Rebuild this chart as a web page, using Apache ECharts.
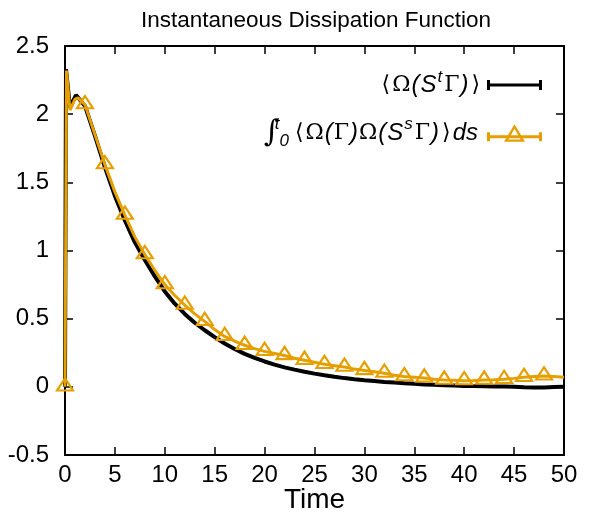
<!DOCTYPE html>
<html><head><meta charset="utf-8">
<script src="https://cdn.jsdelivr.net/npm/echarts@6/dist/echarts.min.js"></script>
<style>html,body{margin:0;padding:0;background:#fff}#c{width:591px;height:515px}</style>
</head><body><div id="c"></div>
<script>
// ---- data ----
const titleText = 'Instantaneous Dissipation Function';
const xAxisName = 'Time';
const xTickValues = [0, 5, 10, 15, 20, 25, 30, 35, 40, 45, 50];
const yTickValues = [-0.5, 0, 0.5, 1, 1.5, 2, 2.5];

const blackName = 'inst';
const blackTime = [0, 0.1, 0.5, 1.1, 2, 3, 4, 5, 6, 7, 8, 9, 10, 11, 12, 13, 14, 15, 16, 17, 18, 19, 20,
  21, 22, 23, 24, 25, 26, 27, 28, 29, 30, 31, 32, 33, 34, 35, 36, 37, 38, 39, 40,
  41, 42, 43, 44, 45, 46, 47, 48, 49, 50];
const blackValue = [0, 2.33, 2.05, 2.14, 2.06, 1.84, 1.61, 1.40, 1.22, 1.06, 0.93, 0.81, 0.70, 0.61, 0.535, 0.47, 0.415, 0.365, 0.318, 0.277, 0.242, 0.212, 0.186,
  0.163, 0.143, 0.126, 0.111, 0.097, 0.085, 0.074, 0.064, 0.055, 0.048, 0.042, 0.036, 0.031, 0.026, 0.022, 0.018, 0.015, 0.012, 0.01, 0.007,
  0.006, 0.005, 0.003, 0.002, 0.0, -0.003, -0.004, -0.004, -0.002, 0.0];

const orangeName = 'integral';
const orangeTime = [0, 0.15, 0.5, 1.0, 1.3, 2, 3, 4, 5, 6, 7, 8, 9, 10, 11, 12, 13, 14, 15, 16, 17, 18, 19, 20,
  21, 22, 23, 24, 25, 26, 27, 28, 29, 30, 31, 32, 33, 34, 35, 36, 37, 38, 39, 40,
  41, 42, 43, 44, 45, 46, 47, 48, 49, 50];
const orangeValue = [0, 2.32, 2.03, 2.11, 2.12, 2.07, 1.85, 1.63, 1.43, 1.26, 1.10, 0.97, 0.855, 0.75, 0.67, 0.60, 0.535, 0.48, 0.42, 0.37, 0.335, 0.305, 0.28, 0.26,
  0.245, 0.23, 0.21, 0.195, 0.18, 0.165, 0.155, 0.145, 0.13, 0.12, 0.11, 0.10, 0.085, 0.075, 0.07, 0.065, 0.055, 0.05, 0.048, 0.045,
  0.047, 0.05, 0.052, 0.055, 0.062, 0.07, 0.075, 0.08, 0.075, 0.07];
const markerStep = 2; // a triangle on every second time unit

// ---- chart ----
const FONT = 'Liberation Sans';
const ORANGE = '#e69f00';
const triPath = 'path://M10,0L20,17.5L0,17.5Z M10,4.64L3.97,15.2L16.03,15.2Z';
const blackIcon = 'path://M0,5h3v10h-3z M3,8.5h49v3h-49z M52,5h3v10h-3z';
const orangeIcon = 'path://M0,8h3v9h-3z M3,11h49v3h-49z M52,8h3v9h-3z M27.5,0L38,17.5L17,17.5Z M27.5,4.6L21.4,15.3L33.6,15.3Z';

const zip = (a, b) => a.map((v, i) => [v, b[i]]);
const xMin = xTickValues[0], xMax = xTickValues[xTickValues.length - 1], xInt = xTickValues[1] - xTickValues[0];
const yMin = yTickValues[0], yMax = yTickValues[yTickValues.length - 1], yInt = yTickValues[1] - yTickValues[0];

const frameLine = { show: true, onZero: false, lineStyle: { color: '#000', width: 2 } };
const tick = { show: true, inside: true, length: 8, lineStyle: { color: '#000', width: 1.5 } };
const labelStyle = { color: '#000', fontFamily: FONT, fontSize: 24 };

const rich = {
  sym: { fontFamily: 'DejaVu Serif', fontSize: 22, color: '#000', lineHeight: 32, verticalAlign: 'middle' },
  br: { fontFamily: 'DejaVu Serif', fontSize: 22, color: '#000', lineHeight: 32, verticalAlign: 'middle', padding: [0, 2, 0, 2] },
  it: { fontFamily: FONT, fontStyle: 'italic', fontSize: 24, color: '#000', lineHeight: 32, verticalAlign: 'middle' },
  itEnd: { fontFamily: FONT, fontStyle: 'italic', fontSize: 24, color: '#000', lineHeight: 32, verticalAlign: 'middle', padding: [0, 4, 0, 0] },
  par: { fontFamily: FONT, fontStyle: 'italic', fontSize: 24, color: '#000', lineHeight: 32, verticalAlign: 'middle', padding: [0, 1, 0, 1] },
  sup: { fontFamily: FONT, fontStyle: 'italic', fontSize: 17, color: '#000', lineHeight: 17, verticalAlign: 'top', padding: [0, 2, 0, 1] },
  integ: { fontFamily: 'DejaVu Serif', fontSize: 30, color: '#000', lineHeight: 34, verticalAlign: 'middle' },
  supz: { fontFamily: FONT, fontStyle: 'italic', fontSize: 17, color: '#000', lineHeight: 17, verticalAlign: 'top', width: 0 },
  sub: { fontFamily: FONT, fontStyle: 'italic', fontSize: 17, color: '#000', lineHeight: 17, verticalAlign: 'bottom', padding: [0, 4, 0, 0] }
};
const legendText = {};
legendText[blackName] = '{br|⟨}{sym|Ω}{par|(}{it|S}{sup|t}{sym|Γ}{par|)}{br|⟩}';
legendText[orangeName] = '{integ|∫}{supz|t}{sub|0}{br|⟨}{sym|Ω}{par|(}{sym|Γ}{par|)}{sym|Ω}{par|(}{it|S}{sup|s}{sym|Γ}{par|)}{br|⟩}{itEnd|ds}';

const chart = echarts.init(document.getElementById('c'));
chart.setOption({
  backgroundColor: '#fff',
  animation: false,
  title: {
    text: titleText, left: 311, top: 4, textAlign: 'center',
    textStyle: { fontFamily: FONT, fontSize: 22.5, fontWeight: 'normal', color: '#000' }
  },
  grid: { left: 65, right: 27, top: 46, bottom: 60, containLabel: false, outerBoundsMode: 'none' },
  legend: {
    orient: 'vertical', right: 49, top: 69, align: 'right', itemGap: 19, padding: 0,
    itemWidth: 55, itemHeight: 20, symbolKeepAspect: true,
    formatter: n => legendText[n],
    textStyle: { rich: rich },
    data: [
      { name: blackName, icon: blackIcon, itemStyle: { color: '#000', borderWidth: 0 } },
      { name: orangeName, icon: orangeIcon, itemStyle: { color: ORANGE, borderWidth: 0 } }
    ]
  },
  xAxis: [
    { type: 'value', min: xMin, max: xMax, interval: xInt, position: 'bottom',
      name: xAxisName, nameLocation: 'middle', nameGap: 31, nameMoveOverlap: false,
      nameTextStyle: { fontFamily: FONT, fontSize: 28, color: '#000' },
      axisLine: frameLine, axisTick: tick, splitLine: { show: false },
      axisLabel: Object.assign({ margin: 8 }, labelStyle) },
    { type: 'value', min: xMin, max: xMax, interval: xInt, position: 'top',
      axisLine: frameLine, axisTick: tick, splitLine: { show: false }, axisLabel: { show: false } }
  ],
  yAxis: [
    { type: 'value', min: yMin, max: yMax, interval: yInt, position: 'left',
      axisLine: frameLine, axisTick: tick, splitLine: { show: false },
      axisLabel: Object.assign({ margin: 16 }, labelStyle) },
    { type: 'value', min: yMin, max: yMax, interval: yInt, position: 'right',
      axisLine: frameLine, axisTick: tick, splitLine: { show: false }, axisLabel: { show: false } }
  ],
  series: [
    { name: blackName, type: 'line', data: zip(blackTime, blackValue),
      showSymbol: false, symbol: 'none', color: '#000',
      lineStyle: { color: '#000', width: 4 }, z: 2 },
    { name: orangeName, type: 'line', data: zip(orangeTime, orangeValue),
      color: ORANGE, showAllSymbol: true,
      symbol: (v) => (Number.isInteger(v[0]) && v[0] % markerStep === 0 && v[0] < xMax) ? triPath : 'none',
      symbolSize: [20, 17.5], symbolKeepAspect: true, symbolOffset: [0, -3],
      itemStyle: { color: ORANGE },
      lineStyle: { color: ORANGE, width: 3 }, z: 3 }
  ]
});
</script>
</body></html>
